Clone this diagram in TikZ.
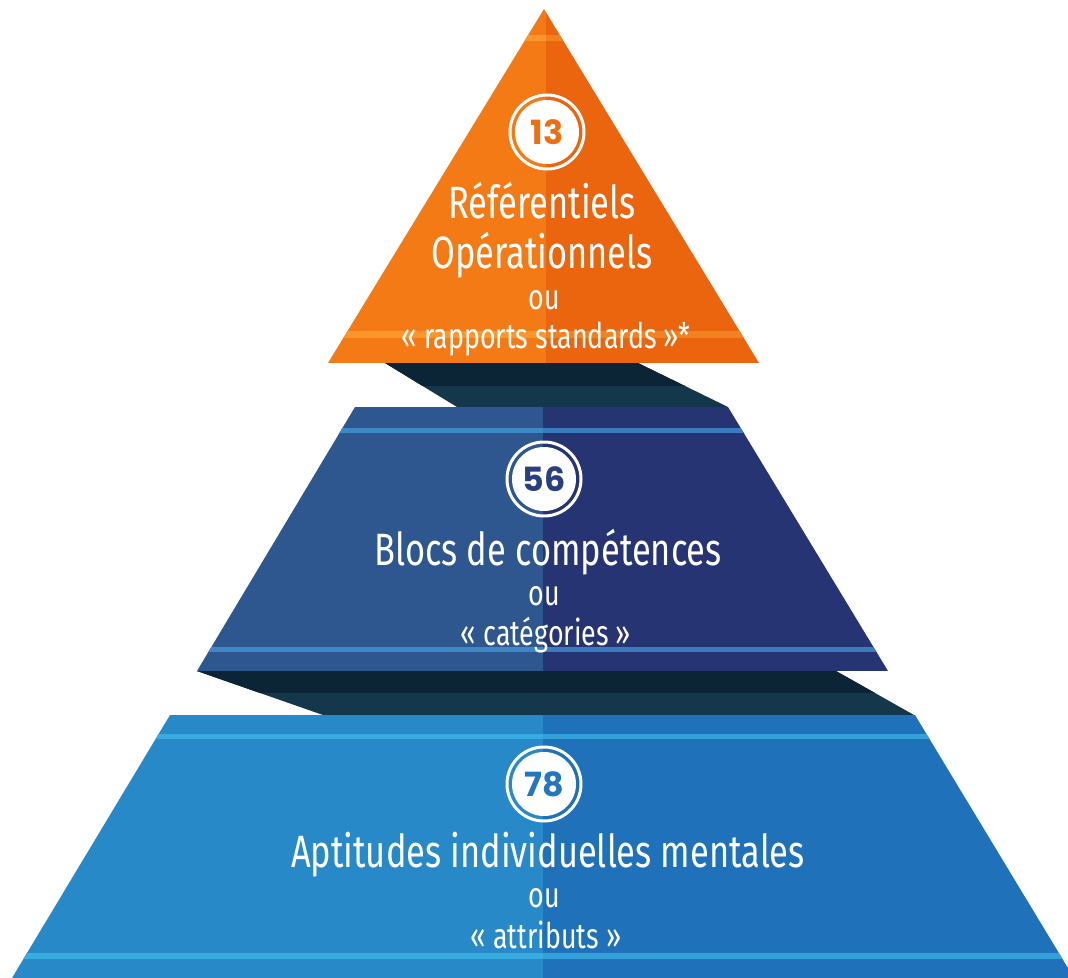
\documentclass[tikz,border=0pt]{standalone}
\usepackage{fontspec}
\setmainfont{Fira Sans}[FakeStretch=0.76]
\newfontfamily\numfont{Poppins}
\usepackage{tikz}
\usetikzlibrary{
  calc,
  positioning,
}
\definecolor{orangeL}{HTML}{F47A16}
\definecolor{orangeR}{HTML}{EA650D}
\definecolor{orangeSL}{HTML}{FA962C}
\definecolor{orangeSR}{HTML}{F2821F}
\definecolor{orangeN}{HTML}{EE6E12}
\definecolor{navyL}{HTML}{2E5790}
\definecolor{navyR}{HTML}{263473}
\definecolor{navySL}{HTML}{3E89C5}
\definecolor{navySR}{HTML}{3B7DBC}
\definecolor{navyN}{HTML}{2A3F7F}
\definecolor{skyL}{HTML}{2889C8}
\definecolor{skyR}{HTML}{1F72BA}
\definecolor{skySL}{HTML}{38ACE0}
\definecolor{skySR}{HTML}{33A0D9}
\definecolor{skyN}{HTML}{2277BE}
\definecolor{shadowA}{HTML}{0B2537}
\definecolor{shadowB}{HTML}{15374C}
\tikzstyle{title} = [
  text=white,
  inner sep=0pt,
  anchor=base,
  font=\fontsize{34}{40}\selectfont,
]
\tikzstyle{sub} = [
  text=white,
  inner sep=0pt,
  anchor=base,
  font=\fontsize{26.5}{30}\selectfont,
]
\tikzstyle{badge} = [
  circle,
  fill=white,
  inner sep=0pt,
  minimum size=48pt,
  font=\numfont\bfseries\fontsize{25}{25}\selectfont,
]

\begin{document}
\begin{tikzpicture}[x=0.75pt, y=-0.75pt]

        \clip (0,0) rectangle (1068,978);

        \begin{scope}
          \clip (385,363) -- (638,363) -- (728,407) -- (457,407) -- cycle;
          \fill [shadowB] (380,363) rectangle (730,407);
          \fill [shadowA] (380,363) rectangle (730,386);
        \end{scope}

        \begin{scope}
          \clip (197,671) -- (836,671) -- (914,715) -- (323,715) -- cycle;
          \fill [shadowB] (190,671) rectangle (920,715);
          \fill [shadowA] (190,671) rectangle (920,693);
        \end{scope}

        \begin{scope}
          \clip (544,9) -- (759,363) -- (328,363) -- cycle;
          \fill [orangeL] (320,0) rectangle (546,363);
          \fill [orangeR] (546,0) rectangle (770,363);
          \foreach \ya/\yb in {35/41, 331/338} {
            \fill [orangeSL] (320,\ya) rectangle (546,\yb);
            \fill [orangeSR] (546,\ya) rectangle (770,\yb);
          }
        \end{scope}

        \begin{scope}
          \clip (355,407) -- (728,407) -- (888,671) -- (197,671) -- cycle;
          \fill [navyL] (190,407) rectangle (543,671);
          \fill [navyR] (543,407) rectangle (900,671);
          \foreach \ya/\yb in {428/433, 647/652} {
            \fill [navySL] (190,\ya) rectangle (543,\yb);
            \fill [navySR] (543,\ya) rectangle (900,\yb);
          }
        \end{scope}

        \begin{scope}
          \clip (170,715) -- (915,715) -- (1074,978) -- (12,978) -- cycle;
          \fill [skyL] (0,715) rectangle (543,978);
          \fill [skyR] (543,715) rectangle (1080,978);
          \foreach \ya/\yb in {734/739, 953/959} {
            \fill [skySL] (0,\ya) rectangle (543,\yb);
            \fill [skySR] (543,\ya) rectangle (1080,\yb);
          }
        \end{scope}

        \node [badge, text=orangeN] (num13) at (547,132) {13};
        \draw [white, line width=2.25pt] (num13.center) circle (37);

        \node [title] (ref) at (542,218) {Référentiels};
        \node [title] (ope) at (542,268) {Opérationnels};
        \node [sub] (ou1) at (544,309) {ou};
        \node [sub] (rap) at (546,348) {« rapports standards »*};

        \node [badge, text=navyN] (num56) at (544,479) {56};
        \draw [white, line width=2.25pt] (num56.center) circle (37);

        \node [title] (blo) at (548,565) {Blocs de compétences};
        \node [sub] (ou2) at (544,605) {ou};
        \node [sub] (cat) at (546,645) {« catégories »};

        \node [badge, text=skyN] (num78) at (544,784) {78};
        \draw [white, line width=2.25pt] (num78.center) circle (37);

        \node [title] (apt) at (548,867) {Aptitudes individuelles mentales};
        \node [sub] (ou3) at (544,907) {ou};
        \node [sub] (att) at (546,948) {« attributs »};

      \end{tikzpicture}
\end{document}
